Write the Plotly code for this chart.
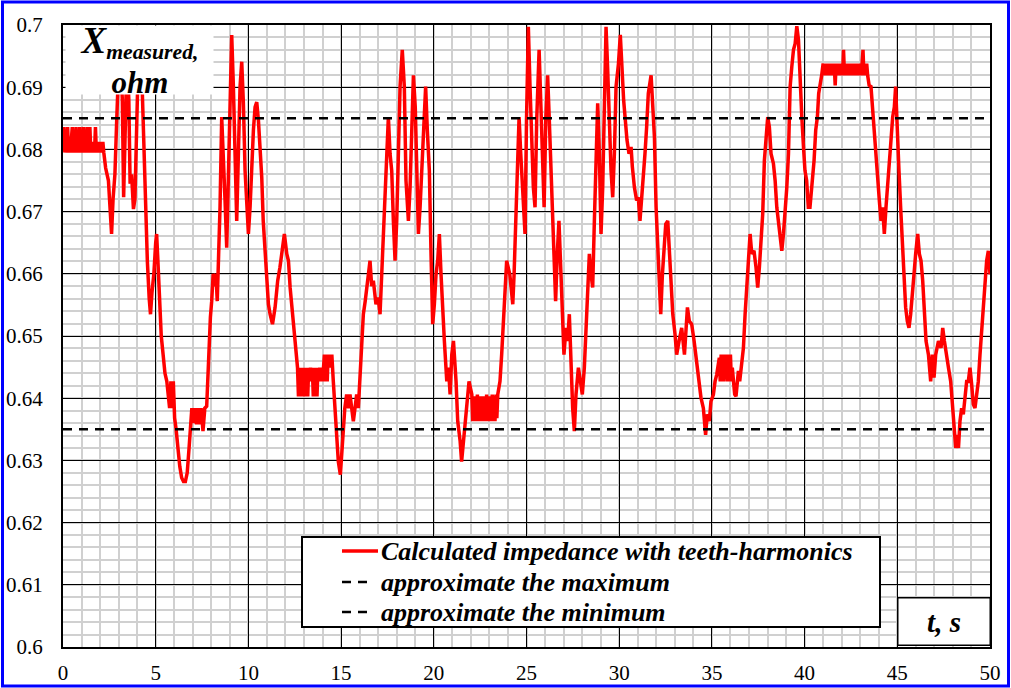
import plotly.graph_objects as go

# time, s
t_s = [
    0.00, 0.05, 0.10, 0.15, 0.20, 0.25, 0.30, 0.35, 0.40, 0.45,
    0.50, 0.55, 0.60, 0.65, 0.70, 0.75, 0.80, 0.85, 0.90, 0.95,
    1.00, 1.05, 1.10, 1.15, 1.20, 1.25, 1.30, 1.35, 1.40, 1.45,
    1.50, 1.55, 1.60, 1.65, 1.70, 1.75, 1.80, 1.85, 1.90, 1.95,
    2.00, 2.05, 2.10, 2.15, 2.20,
    2.30, 2.45, 2.55, 2.62, 2.70, 2.80, 2.90, 3.00, 3.10, 3.20,
    3.27, 3.35, 3.45, 3.55, 3.62, 3.70, 3.80, 3.88, 3.95, 4.05,
    4.15, 4.25, 4.35, 4.45, 4.55, 4.65, 4.72, 4.80, 4.90, 5.00,
    5.05, 5.12, 5.20, 5.30, 5.40, 5.50, 5.60, 5.68, 5.75, 5.82,
    5.88, 5.95, 6.02, 6.10, 6.20, 6.30, 6.40, 6.50, 6.60, 6.70,
    6.80, 6.88, 6.95, 7.05, 7.12, 7.20, 7.28, 7.35, 7.45, 7.55,
    7.65, 7.75, 7.85, 7.95, 8.02, 8.10, 8.18, 8.25, 8.32, 8.40,
    8.47, 8.56, 8.65, 8.74, 8.83, 8.92, 9.00, 9.10, 9.19, 9.28,
    9.37, 9.46, 9.55, 9.64, 9.73, 9.82, 9.90, 10.00, 10.09, 10.18,
    10.27, 10.36, 10.45, 10.54, 10.63, 10.72, 10.80, 10.90, 10.99, 11.08,
    11.17, 11.30, 11.44, 11.58, 11.70, 11.80, 11.94, 12.07, 12.16, 12.25,
    12.37, 12.48, 12.57, 12.65,
    12.70, 12.75, 12.80, 12.85, 12.90, 12.95, 13.00, 13.05, 13.10, 13.15,
    13.20, 13.25, 13.30, 13.35, 13.40, 13.45, 13.50, 13.55, 13.60, 13.65,
    13.70, 13.75, 13.80, 13.85, 13.90, 13.95, 14.00, 14.05, 14.10, 14.15,
    14.20, 14.25, 14.30, 14.35, 14.40, 14.45, 14.50,
    14.58, 14.67, 14.76, 14.85, 14.96, 15.03, 15.12, 15.20, 15.30, 15.40,
    15.48, 15.58, 15.66, 15.75, 15.84, 15.93, 16.02, 16.10, 16.20, 16.30,
    16.44, 16.56, 16.65, 16.74, 16.88, 17.00, 17.10, 17.19, 17.28, 17.37,
    17.46, 17.55, 17.64, 17.73, 17.82, 17.91, 18.00, 18.09, 18.18, 18.30,
    18.41, 18.50, 18.63, 18.72, 18.80, 18.90, 19.00, 19.08, 19.17, 19.26,
    19.35, 19.44, 19.56, 19.65, 19.76, 19.85, 19.94, 20.03, 20.12, 20.21,
    20.30, 20.39, 20.48, 20.57, 20.70, 20.79, 20.88, 20.97, 21.06, 21.20,
    21.29, 21.42, 21.50, 21.63, 21.78, 21.90, 22.05,
    22.10, 22.15, 22.20, 22.25, 22.30, 22.35, 22.40, 22.45, 22.50, 22.55,
    22.60, 22.65, 22.70, 22.75, 22.80, 22.85, 22.90, 22.95, 23.00, 23.05,
    23.10, 23.15, 23.20, 23.25, 23.30, 23.35, 23.40, 23.45,
    23.57, 23.66, 23.75, 23.84, 23.93, 24.10, 24.26, 24.33, 24.42, 24.51,
    24.60, 24.69, 24.80, 24.92, 25.00, 25.10, 25.19, 25.28, 25.37, 25.46,
    25.55, 25.68, 25.77, 25.86, 25.95, 26.04, 26.14, 26.23, 26.32, 26.40,
    26.48, 26.57, 26.66, 26.75, 26.86, 26.93, 27.02, 27.13, 27.22, 27.31,
    27.40, 27.49, 27.58, 27.67, 27.80, 27.89, 28.01, 28.12, 28.21, 28.30,
    28.39, 28.48, 28.57, 28.66, 28.75, 28.84, 28.93, 29.02, 29.11, 29.20,
    29.29, 29.38, 29.47, 29.56, 29.65, 29.74, 29.83, 29.96, 30.06, 30.15,
    30.24, 30.33, 30.42, 30.53, 30.64, 30.71, 30.82, 30.94, 31.03, 31.12,
    31.21, 31.30, 31.39, 31.48, 31.57, 31.72, 31.81, 31.90, 31.99, 32.08,
    32.17, 32.24, 32.33, 32.42, 32.51, 32.62, 32.71, 32.80, 32.89, 33.01,
    33.10, 33.23, 33.37, 33.52, 33.60, 33.68, 33.78, 33.91, 34.04, 34.18,
    34.30, 34.41, 34.54, 34.66, 34.75, 34.86, 34.95, 35.08, 35.17, 35.26,
    35.40,
    35.45, 35.50, 35.55, 35.60, 35.65, 35.70, 35.75, 35.80, 35.85, 35.90,
    35.95, 36.00, 36.05, 36.10, 36.16, 36.23, 36.30, 36.36, 36.43, 36.50,
    36.60, 36.70, 36.79, 36.88, 36.97, 37.06, 37.15, 37.27, 37.38, 37.47,
    37.56, 37.65, 37.74, 37.83, 37.92, 38.01, 38.10, 38.19, 38.32, 38.41,
    38.50, 38.59, 38.68, 38.77, 38.86, 38.95, 39.04, 39.13, 39.22, 39.31,
    39.40, 39.49, 39.58, 39.67, 39.76, 39.85, 39.94, 40.02, 40.11, 40.20,
    40.29, 40.42, 40.51, 40.60, 40.69, 40.76, 40.83, 40.92,
    41.00, 41.05, 41.10, 41.15, 41.20, 41.25, 41.30, 41.35, 41.40, 41.45,
    41.50, 41.55, 41.60, 41.65, 41.70, 41.75, 41.80, 41.85, 41.90, 41.95,
    42.00, 42.05, 42.10, 42.15, 42.20, 42.25, 42.30, 42.35, 42.40, 42.45,
    42.50, 42.55, 42.60, 42.65, 42.70, 42.75, 42.80, 42.85, 42.90, 42.95,
    43.00, 43.05, 43.10, 43.15, 43.20, 43.25, 43.30, 43.35, 43.40,
    43.48, 43.58, 43.67, 43.76, 43.85, 43.94, 44.03, 44.12, 44.21, 44.30,
    44.39, 44.48, 44.57, 44.66, 44.75, 44.84, 44.91, 45.00, 45.09, 45.18,
    45.27, 45.36, 45.45, 45.54, 45.63, 45.72, 45.81, 45.90, 45.99, 46.10,
    46.19, 46.28, 46.37, 46.46, 46.55, 46.68, 46.80, 46.89, 46.98, 47.07,
    47.22, 47.36, 47.45, 47.54, 47.63, 47.76, 47.88, 47.97, 48.06, 48.15,
    48.22, 48.30, 48.38, 48.47, 48.56, 48.65, 48.74, 48.83, 48.92, 49.01,
    49.10, 49.19, 49.28, 49.37, 49.46, 49.55, 49.64, 49.73, 49.82, 49.91,
    50.00,
]

# X measured, ohm
x_ohm = [
    0.6810, 0.6836, 0.6795, 0.6812, 0.6795, 0.6836, 0.6795, 0.6812, 0.6795, 0.6812,
    0.6836, 0.6795, 0.6812, 0.6795, 0.6836, 0.6795, 0.6812, 0.6795, 0.6836, 0.6795,
    0.6812, 0.6795, 0.6836, 0.6795, 0.6812, 0.6795, 0.6836, 0.6795, 0.6812, 0.6836,
    0.6795, 0.6812, 0.6795, 0.6812, 0.6795, 0.6836, 0.6795, 0.6812, 0.6795, 0.6812,
    0.6795, 0.6812, 0.6795, 0.6812, 0.6795,
    0.6770, 0.6750, 0.6700, 0.6664, 0.6720, 0.6760, 0.6850, 0.6930, 0.6950, 0.6880,
    0.6723, 0.6850, 0.6950, 0.6880, 0.6745, 0.6760, 0.6704, 0.6720, 0.6820, 0.6930,
    0.6950, 0.6920, 0.6820, 0.6700, 0.6620, 0.6560, 0.6535, 0.6570, 0.6600, 0.6650,
    0.6664, 0.6620, 0.6560, 0.6500, 0.6470, 0.6440, 0.6427, 0.6400, 0.6384, 0.6427,
    0.6384, 0.6427, 0.6368, 0.6350, 0.6315, 0.6290, 0.6272, 0.6266, 0.6266, 0.6280,
    0.6320, 0.6347, 0.6384, 0.6360, 0.6384, 0.6358, 0.6384, 0.6358, 0.6384, 0.6347,
    0.6384, 0.6387, 0.6470, 0.6530, 0.6556, 0.6600, 0.6580, 0.6600, 0.6556, 0.6632,
    0.6707, 0.6852, 0.6766, 0.6718, 0.6642, 0.6766, 0.6901, 0.6984, 0.6901, 0.6793,
    0.6685, 0.6793, 0.6901, 0.6941, 0.6874, 0.6766, 0.6707, 0.6664, 0.6707, 0.6782,
    0.6831, 0.6868, 0.6876, 0.6847, 0.6804, 0.6755, 0.6685, 0.6632, 0.6599, 0.6551,
    0.6535, 0.6519, 0.6546, 0.6589, 0.6610, 0.6632, 0.6664, 0.6632, 0.6621, 0.6578,
    0.6535, 0.6497, 0.6470, 0.6449,
    0.6403, 0.6449, 0.6403, 0.6449, 0.6403, 0.6449, 0.6403, 0.6449, 0.6403, 0.6449,
    0.6403, 0.6449, 0.6427, 0.6449, 0.6427, 0.6449, 0.6403, 0.6449, 0.6403, 0.6449,
    0.6403, 0.6449, 0.6427, 0.6449, 0.6427, 0.6449, 0.6427, 0.6449, 0.6470, 0.6427,
    0.6470, 0.6427, 0.6470, 0.6449, 0.6470, 0.6449, 0.6470,
    0.6427, 0.6384, 0.6336, 0.6298, 0.6277, 0.6315, 0.6347, 0.6384, 0.6406, 0.6384,
    0.6406, 0.6374, 0.6363, 0.6384, 0.6406, 0.6384, 0.6427, 0.6470, 0.6535, 0.6556,
    0.6589, 0.6621, 0.6580, 0.6589, 0.6551, 0.6562, 0.6535, 0.6599, 0.6659, 0.6723,
    0.6793, 0.6852, 0.6793, 0.6766, 0.6685, 0.6621, 0.6685, 0.6793, 0.6901, 0.6960,
    0.6901, 0.6750, 0.6685, 0.6739, 0.6847, 0.6919, 0.6868, 0.6766, 0.6664, 0.6707,
    0.6766, 0.6831, 0.6901, 0.6831, 0.6766, 0.6632, 0.6519, 0.6551, 0.6599, 0.6621,
    0.6664, 0.6599, 0.6535, 0.6492, 0.6427, 0.6449, 0.6406, 0.6470, 0.6492, 0.6427,
    0.6363, 0.6331, 0.6298, 0.6341, 0.6384, 0.6427, 0.6406,
    0.6363, 0.6403, 0.6363, 0.6403, 0.6363, 0.6406, 0.6363, 0.6403, 0.6363, 0.6403,
    0.6363, 0.6403, 0.6363, 0.6403, 0.6363, 0.6406, 0.6363, 0.6403, 0.6363, 0.6403,
    0.6363, 0.6406, 0.6363, 0.6403, 0.6363, 0.6406, 0.6368, 0.6406,
    0.6427, 0.6470, 0.6513, 0.6578, 0.6621, 0.6599, 0.6551, 0.6599, 0.6685, 0.6793,
    0.6852, 0.6793, 0.6723, 0.6664, 0.6847, 0.6997, 0.6901, 0.6793, 0.6739, 0.6707,
    0.6847, 0.6960, 0.6879, 0.6766, 0.6707, 0.6847, 0.6919, 0.6847, 0.6766, 0.6685,
    0.6599, 0.6556, 0.6632, 0.6685, 0.6599, 0.6535, 0.6470, 0.6513, 0.6492, 0.6535,
    0.6449, 0.6384, 0.6347, 0.6406, 0.6449, 0.6427, 0.6406, 0.6449, 0.6513, 0.6556,
    0.6632, 0.6599, 0.6578, 0.6685, 0.6793, 0.6874, 0.6793, 0.6664, 0.6739, 0.6901,
    0.6997, 0.6927, 0.6820, 0.6766, 0.6723, 0.6793, 0.6901, 0.6938, 0.6984, 0.6922,
    0.6879, 0.6847, 0.6815, 0.6793, 0.6804, 0.6772, 0.6739, 0.6718, 0.6723, 0.6685,
    0.6718, 0.6750, 0.6793, 0.6836, 0.6890, 0.6919, 0.6868, 0.6820, 0.6707, 0.6632,
    0.6578, 0.6535, 0.6599, 0.6642, 0.6680, 0.6685, 0.6642, 0.6599, 0.6535, 0.6503,
    0.6470, 0.6492, 0.6513, 0.6470, 0.6513, 0.6546, 0.6524, 0.6519, 0.6492, 0.6460,
    0.6427, 0.6401, 0.6384, 0.6341, 0.6374, 0.6363, 0.6395, 0.6406, 0.6427, 0.6438,
    0.6465,
    0.6427, 0.6470, 0.6427, 0.6470, 0.6427, 0.6470, 0.6449, 0.6470, 0.6427, 0.6470,
    0.6427, 0.6470, 0.6427, 0.6449, 0.6427, 0.6406, 0.6403, 0.6427, 0.6444, 0.6427,
    0.6449, 0.6481, 0.6535, 0.6578, 0.6610, 0.6664, 0.6632, 0.6637, 0.6610, 0.6578,
    0.6610, 0.6659, 0.6696, 0.6782, 0.6820, 0.6852, 0.6836, 0.6793, 0.6777, 0.6750,
    0.6707, 0.6685, 0.6664, 0.6637, 0.6664, 0.6696, 0.6739, 0.6793, 0.6901, 0.6933,
    0.6960, 0.6970, 0.6998, 0.6976, 0.6901, 0.6852, 0.6804, 0.6766, 0.6750, 0.6707,
    0.6707, 0.6750, 0.6782, 0.6831, 0.6852, 0.6890, 0.6901, 0.6919,
    0.6938, 0.6919, 0.6938, 0.6919, 0.6938, 0.6919, 0.6938, 0.6919, 0.6938, 0.6919,
    0.6938, 0.6919, 0.6938, 0.6903, 0.6938, 0.6919, 0.6938, 0.6919, 0.6938, 0.6919,
    0.6938, 0.6919, 0.6960, 0.6919, 0.6938, 0.6919, 0.6938, 0.6919, 0.6938, 0.6919,
    0.6938, 0.6919, 0.6938, 0.6919, 0.6938, 0.6919, 0.6938, 0.6919, 0.6938, 0.6919,
    0.6938, 0.6919, 0.6938, 0.6960, 0.6919, 0.6938, 0.6919, 0.6938, 0.6919,
    0.6903, 0.6901, 0.6868, 0.6836, 0.6793, 0.6755, 0.6718, 0.6685, 0.6707, 0.6664,
    0.6707, 0.6750, 0.6782, 0.6815, 0.6852, 0.6868, 0.6901, 0.6820, 0.6766, 0.6707,
    0.6642, 0.6589, 0.6546, 0.6524, 0.6513, 0.6535, 0.6578, 0.6599, 0.6632, 0.6664,
    0.6632, 0.6621, 0.6589, 0.6535, 0.6492, 0.6470, 0.6427, 0.6470, 0.6433, 0.6470,
    0.6492, 0.6481, 0.6513, 0.6492, 0.6470, 0.6449, 0.6427, 0.6384, 0.6347, 0.6320,
    0.6341, 0.6320, 0.6363, 0.6384, 0.6374, 0.6406, 0.6427, 0.6427, 0.6449, 0.6422,
    0.6390, 0.6384, 0.6406, 0.6427, 0.6470, 0.6513, 0.6535, 0.6578, 0.6621, 0.6637,
    0.6599,
]

approx_max = 0.685
approx_min = 0.635
t_span = [0, 50]

y_ticks = [0.6, 0.61, 0.62, 0.63, 0.64, 0.65, 0.66, 0.67, 0.68, 0.69, 0.7]
y_labels = ["0.6", "0.61", "0.62", "0.63", "0.64", "0.65", "0.66", "0.67", "0.68", "0.69", "0.7"]
x_ticks = [0, 5, 10, 15, 20, 25, 30, 35, 40, 45, 50]

legend_names = ["Calculated impedance with teeth-harmonics",
                "approximate the maximum",
                "approximate the minimum"]

SERIF = "Times New Roman, Liberation Serif, DejaVu Serif, serif"
RED = "#ff0000"
DASH = "9px,7px"

fig = go.Figure()
fig.add_trace(go.Scatter(x=t_s, y=x_ohm, mode="lines", line=dict(color=RED, width=3.5),
                         name=legend_names[0], showlegend=False))
fig.add_trace(go.Scatter(x=t_span, y=[approx_max, approx_max], mode="lines",
                         line=dict(color="black", width=2.5, dash=DASH),
                         name=legend_names[1], showlegend=False))
fig.add_trace(go.Scatter(x=t_span, y=[approx_min, approx_min], mode="lines",
                         line=dict(color="black", width=2.5, dash=DASH),
                         name=legend_names[2], showlegend=False))

fig.update_xaxes(range=[0, 50], tickvals=x_ticks, showgrid=True, gridcolor="black", gridwidth=1,
                 minor=dict(dtick=1, showgrid=True, gridcolor="#d0d0d0", gridwidth=1.5),
                 showline=True, linecolor="black", linewidth=2, mirror=True,
                 ticks="", ticklabelstandoff=6, zeroline=False, automargin=False,
                 tickfont=dict(family=SERIF, size=21, color="black"))
fig.update_yaxes(range=[0.6, 0.7], tickvals=y_ticks, ticktext=y_labels, showgrid=True,
                 gridcolor="black", gridwidth=1,
                 minor=dict(dtick=0.002, tick0=0.6, showgrid=True, gridcolor="#d0d0d0", gridwidth=1.5),
                 showline=True, linecolor="black", linewidth=2, mirror=True,
                 ticks="", ticklabelstandoff=14, zeroline=False, automargin=False,
                 tickfont=dict(family=SERIF, size=21, color="black"))

W, H = 1011, 688
ml, mr, mt, mb = 63, 21, 25, 41
pw, ph = W - ml - mr, H - mt - mb

def px(x):
    return (x - ml) / pw

def py(y):
    return (H - mb - y) / ph

# legend box drawn by hand so its size follows the original
legend_rows = [551, 582, 612]
legend_lines = [dict(color=RED, width=3.5), dict(color="black", width=2.5, dash=DASH),
                dict(color="black", width=2.5, dash=DASH)]
legend_ends = [378, 369, 369]

shapes = [
    dict(type="rect", xref="paper", yref="paper", x0=px(2.5), x1=px(1008.5), y0=py(686), y1=py(2),
         line=dict(color="#0000ff", width=3), layer="above"),
    dict(type="rect", xref="paper", yref="paper", x0=px(302), x1=px(880), y0=py(627), y1=py(537),
         fillcolor="white", line=dict(color="black", width=2), layer="above"),
]
annotations = [
    dict(xref="paper", yref="paper", x=px(65), y=py(25), xanchor="left", yanchor="top",
         width=145, height=66, bgcolor="white", showarrow=False, align="center",
         text="<b><i><span style='font-size:37px'>X</span><sub>measured,</sub><br>ohm</i></b>",
         font=dict(family=SERIF, size=31, color="black")),
    dict(xref="paper", yref="paper", x=px(897), y=py(597), xanchor="left", yanchor="top",
         width=89, height=44, bgcolor="white", bordercolor="black", borderwidth=1.5,
         showarrow=False, text="<b><i>t, s</i></b>",
         font=dict(family=SERIF, size=29, color="black")),
]
for row, name, ln, x_end in zip(legend_rows, legend_names, legend_lines, legend_ends):
    shapes.append(dict(type="line", xref="paper", yref="paper", x0=px(342), x1=px(x_end),
                       y0=py(row), y1=py(row), line=ln, layer="above"))
    annotations.append(dict(xref="paper", yref="paper", x=px(379), y=py(row),
                            xanchor="left", yanchor="middle", showarrow=False,
                            text="<b><i>" + name + "</i></b>",
                            font=dict(family=SERIF, size=26, color="black")))

fig.update_layout(
    width=W, height=H,
    margin=dict(l=ml, r=mr, t=mt, b=mb, autoexpand=False),
    paper_bgcolor="white", plot_bgcolor="white",
    showlegend=False,
    shapes=shapes,
    annotations=annotations,
)

fig.write_html("out.html", config={"displayModeBar": False},
               post_script="document.body.style.margin='0px';")
